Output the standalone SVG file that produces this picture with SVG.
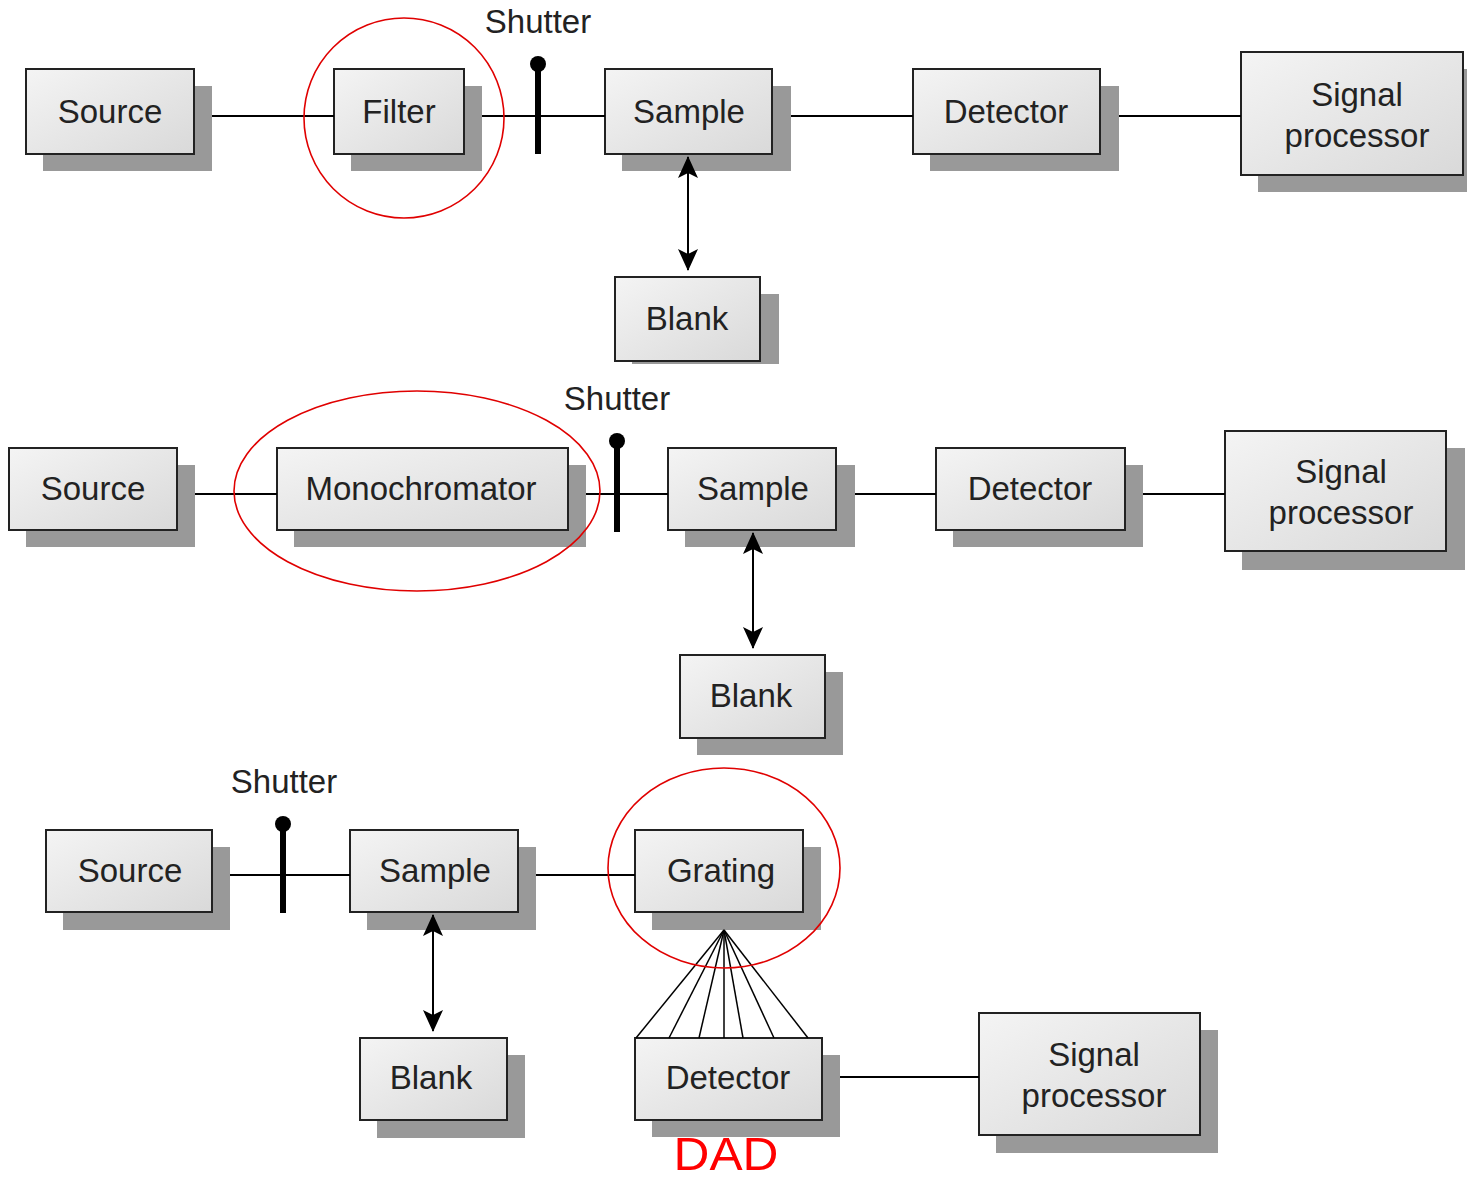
<svg xmlns="http://www.w3.org/2000/svg" width="1467" height="1180" viewBox="0 0 1467 1180">
  <defs>
    <linearGradient id="boxFill" x1="0" y1="0" x2="1" y2="1">
      <stop offset="0" stop-color="#f4f4f4"/>
      <stop offset="1" stop-color="#d9d9d9"/>
    </linearGradient>
    <marker id="arrow" viewBox="0 0 22 20" refX="21" refY="10" markerWidth="22" markerHeight="20" markerUnits="userSpaceOnUse" orient="auto-start-reverse">
      <path d="M0,0 L22,10 L0,20 L5,10 Z" fill="#000"/>
    </marker>
    <style>
      .shadow { fill: #999999; }
      .box { fill: url(#boxFill); stroke: #222; stroke-width: 2; }
      .label { font-family: "Liberation Sans", Arial, sans-serif; font-size: 33px; fill: #222; text-anchor: middle; }
      .wire { stroke: #000; stroke-width: 1.8; fill: none; }
      .fan { stroke: #000; stroke-width: 1.5; fill: none; }
      .dual { stroke: #000; stroke-width: 2; fill: none; marker-start: url(#arrow); marker-end: url(#arrow); }
      .bar { stroke: #000; stroke-width: 6; }
      .mark { fill: none; stroke: #e00000; stroke-width: 1.6; }
    </style>
  </defs>
  <rect width="1467" height="1180" fill="#fff"/>

  <!-- ===== Row 1: filter photometer ===== -->
  <g id="r1-source"><rect class="shadow" x="43" y="86" width="169" height="85"/><rect class="box" x="26" y="69" width="168" height="85"/><text class="label" x="110" y="123">Source</text></g>
  <g id="r1-filter"><rect class="shadow" x="351" y="86" width="131" height="85"/><rect class="box" x="334" y="69" width="130" height="85"/><text class="label" x="399" y="123">Filter</text></g>
  <g id="r1-sample"><rect class="shadow" x="622" y="86" width="169" height="85"/><rect class="box" x="605" y="69" width="167" height="85"/><text class="label" x="689" y="123">Sample</text></g>
  <g id="r1-detector"><rect class="shadow" x="930" y="86" width="189" height="85"/><rect class="box" x="913" y="69" width="187" height="85"/><text class="label" x="1006" y="123">Detector</text></g>
  <g id="r1-signal"><rect class="shadow" x="1258" y="69" width="209" height="123"/><rect class="box" x="1241" y="52" width="222" height="123"/><text class="label" x="1357" y="106">Signal</text><text class="label" x="1357" y="147">processor</text></g>
  <g id="r1-blank"><rect class="shadow" x="632" y="294" width="147" height="70"/><rect class="box" x="615" y="277" width="145" height="84"/><text class="label" x="687" y="330">Blank</text></g>
  <g id="r1-shutter"><line class="bar" x1="538" y1="64" x2="538" y2="154"/><circle cx="538" cy="64" r="8"/><text class="label" x="538" y="33">Shutter</text></g>

  <!-- ===== Row 2: monochromator ===== -->
  <g id="r2-source"><rect class="shadow" x="26" y="465" width="169" height="82"/><rect class="box" x="9" y="448" width="168" height="82"/><text class="label" x="93" y="500">Source</text></g>
  <g id="r2-mono"><rect class="shadow" x="294" y="465" width="292" height="82"/><rect class="box" x="277" y="448" width="291" height="82"/><text class="label" x="421" y="500">Monochromator</text></g>
  <g id="r2-sample"><rect class="shadow" x="685" y="465" width="170" height="82"/><rect class="box" x="668" y="448" width="168" height="82"/><text class="label" x="753" y="500">Sample</text></g>
  <g id="r2-detector"><rect class="shadow" x="953" y="465" width="190" height="82"/><rect class="box" x="936" y="448" width="189" height="82"/><text class="label" x="1030" y="500">Detector</text></g>
  <g id="r2-signal"><rect class="shadow" x="1242" y="448" width="223" height="122"/><rect class="box" x="1225" y="431" width="221" height="120"/><text class="label" x="1341" y="483">Signal</text><text class="label" x="1341" y="524">processor</text></g>
  <g id="r2-blank"><rect class="shadow" x="697" y="672" width="146" height="83"/><rect class="box" x="680" y="655" width="145" height="83"/><text class="label" x="751" y="707">Blank</text></g>
  <g id="r2-shutter"><line class="bar" x1="617" y1="441" x2="617" y2="532"/><circle cx="617" cy="441" r="8"/><text class="label" x="617" y="410">Shutter</text></g>

  <!-- ===== Row 3: diode array ===== -->
  <g id="r3-source"><rect class="shadow" x="63" y="847" width="167" height="83"/><rect class="box" x="46" y="830" width="166" height="82"/><text class="label" x="130" y="882">Source</text></g>
  <g id="r3-sample"><rect class="shadow" x="367" y="847" width="169" height="83"/><rect class="box" x="350" y="830" width="168" height="82"/><text class="label" x="435" y="882">Sample</text></g>
  <g id="r3-grating"><rect class="shadow" x="652" y="847" width="169" height="83"/><rect class="box" x="635" y="830" width="168" height="82"/><text class="label" x="721" y="882">Grating</text></g>
  <g id="r3-blank"><rect class="shadow" x="377" y="1055" width="148" height="83"/><rect class="box" x="360" y="1038" width="147" height="82"/><text class="label" x="431" y="1089">Blank</text></g>
  <g id="r3-detector"><rect class="shadow" x="652" y="1055" width="188" height="82"/><rect class="box" x="635" y="1038" width="187" height="82"/><text class="label" x="728" y="1089">Detector</text></g>
  <g id="r3-signal"><rect class="shadow" x="996" y="1030" width="222" height="123"/><rect class="box" x="979" y="1013" width="221" height="122"/><text class="label" x="1094" y="1066">Signal</text><text class="label" x="1094" y="1107">processor</text></g>
  <g id="r3-shutter"><line class="bar" x1="283" y1="824" x2="283" y2="913"/><circle cx="283" cy="824" r="8"/><text class="label" x="284" y="793">Shutter</text></g>

  <!-- ===== Connectors ===== -->
  <g id="connectors">
    <line class="wire" x1="212" y1="116" x2="334" y2="116"/>
    <line class="wire" x1="482" y1="116" x2="605" y2="116"/>
    <line class="wire" x1="791" y1="116" x2="913" y2="116"/>
    <line class="wire" x1="1119" y1="116" x2="1241" y2="116"/>
    <line class="dual" x1="688" y1="157" x2="688" y2="270"/>

    <line class="wire" x1="195" y1="494" x2="277" y2="494"/>
    <line class="wire" x1="586" y1="494" x2="668" y2="494"/>
    <line class="wire" x1="855" y1="494" x2="936" y2="494"/>
    <line class="wire" x1="1143" y1="494" x2="1225" y2="494"/>
    <line class="dual" x1="753" y1="533" x2="753" y2="648"/>

    <line class="wire" x1="230" y1="875" x2="350" y2="875"/>
    <line class="wire" x1="536" y1="875" x2="635" y2="875"/>
    <line class="wire" x1="840" y1="1077" x2="979" y2="1077"/>
    <line class="dual" x1="433" y1="915" x2="433" y2="1031"/>

    <!-- dispersed beams from the grating onto the diode array -->
    <line class="fan" x1="724" y1="930" x2="636" y2="1038"/>
    <line class="fan" x1="724" y1="930" x2="669" y2="1038"/>
    <line class="fan" x1="724" y1="930" x2="699" y2="1038"/>
    <line class="fan" x1="724" y1="930" x2="724" y2="1038"/>
    <line class="fan" x1="724" y1="930" x2="743" y2="1038"/>
    <line class="fan" x1="724" y1="930" x2="774" y2="1038"/>
    <line class="fan" x1="724" y1="930" x2="808" y2="1038"/>
  </g>

  <!-- ===== Highlights ===== -->
  <g id="highlights">
    <ellipse class="mark" cx="404" cy="118" rx="100" ry="100"/>
    <ellipse class="mark" cx="417" cy="491" rx="183" ry="100"/>
    <ellipse class="mark" cx="724" cy="868" rx="116" ry="100"/>
    <text x="726" y="1170" font-family="Liberation Sans, Arial, sans-serif" font-size="47" fill="#ff0000" text-anchor="middle" textLength="105" lengthAdjust="spacingAndGlyphs">DAD</text>
  </g>
</svg>
